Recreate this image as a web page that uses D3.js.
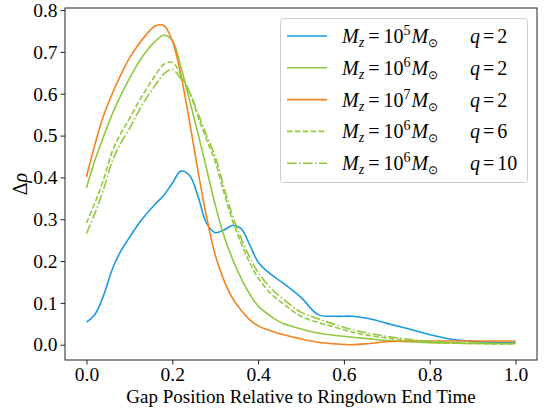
<!DOCTYPE html>
<html><head><meta charset="utf-8">
<script src="https://cdn.jsdelivr.net/npm/d3@7"></script>
<style>body{margin:0;background:#fff}</style>
</head><body>
<svg id="c" width="547" height="410"></svg>
<script>
const xs = [0, .02, .04, .06, .08, .10, .12, .14, .16, .18, .20, .22, .24, .26, .28, .30, .32, .34, .36, .38, .40, .43, .46, .50, .54, .58, .62, .66, .70, .75, .80, .85, .90, .95, 1.0];
const m5q2 = [0.054, 0.073, 0.118, 0.180, 0.224, 0.256, 0.287, 0.313, 0.336, 0.357, 0.386, 0.415, 0.405, 0.355, 0.290, 0.268, 0.274, 0.285, 0.278, 0.240, 0.198, 0.168, 0.146, 0.113, 0.072, 0.068, 0.068, 0.062, 0.051, 0.038, 0.024, 0.013, 0.008, 0.006, 0.005];
const m6q2 = [0.375, 0.442, 0.498, 0.551, 0.596, 0.636, 0.672, 0.702, 0.725, 0.740, 0.728, 0.664, 0.586, 0.505, 0.420, 0.335, 0.262, 0.206, 0.160, 0.122, 0.093, 0.068, 0.050, 0.038, 0.028, 0.022, 0.018, 0.014, 0.010, 0.007, 0.005, 0.004, 0.003, 0.003, 0.003];
const m7q2 = [0.401, 0.480, 0.548, 0.600, 0.645, 0.685, 0.716, 0.742, 0.762, 0.763, 0.727, 0.645, 0.535, 0.415, 0.305, 0.215, 0.155, 0.112, 0.083, 0.060, 0.045, 0.033, 0.024, 0.014, 0.006, 0.002, 0.000, 0.003, 0.007, 0.009, 0.009, 0.009, 0.009, 0.009, 0.009];
const m6q6 = [0.291, 0.340, 0.395, 0.462, 0.505, 0.540, 0.578, 0.612, 0.643, 0.670, 0.675, 0.645, 0.605, 0.545, 0.490, 0.438, 0.365, 0.298, 0.244, 0.197, 0.160, 0.122, 0.097, 0.068, 0.053, 0.042, 0.030, 0.022, 0.016, 0.010, 0.006, 0.004, 0.003, 0.002, 0.002];
const m6q10 = [0.266, 0.315, 0.372, 0.438, 0.482, 0.516, 0.555, 0.590, 0.620, 0.647, 0.658, 0.636, 0.604, 0.553, 0.500, 0.450, 0.378, 0.310, 0.256, 0.210, 0.173, 0.135, 0.108, 0.078, 0.062, 0.048, 0.036, 0.027, 0.020, 0.013, 0.008, 0.005, 0.004, 0.003, 0.003];
const xTicks = [0.0, 0.2, 0.4, 0.6, 0.8, 1.0];
const yTicks = [0.0, 0.1, 0.2, 0.3, 0.4, 0.5, 0.6, 0.7, 0.8];
const legendMass = ["5", "6", "7", "6", "6"];
const legendQ = ["2", "2", "2", "6", "10"];
const xLabel = "Gap Position Relative to Ringdown End Time";

const series = [
  {y: m5q2, color: "#1a9be0", dash: null},
  {y: m6q2, color: "#92c83e", dash: null},
  {y: m7q2, color: "#f58220", dash: null},
  {y: m6q6, color: "#92c83e", dash: "5.5,2.4"},
  {y: m6q10, color: "#92c83e", dash: "9.6,2.4,1.6,2.4"}
];

const W = 547, H = 410;
const m = {l: 65, r: 10, t: 8, b: 50};
const svg = d3.select("#c");
const x = d3.scaleLinear().domain([-0.05, 1.05]).range([m.l, W - m.r]);
const y = d3.scaleLinear().domain([-0.0365, 0.805]).range([H - m.b, m.t]);
const serif = "'Liberation Serif', 'Times New Roman', serif";

const line = d3.line().x((d, i) => x(xs[i])).y(d => y(d)).curve(d3.curveCatmullRom.alpha(0.5));
const g = svg.append("g");
series.forEach(s => {
  g.append("path").datum(s.y).attr("d", line)
    .attr("fill", "none").attr("stroke", s.color).attr("stroke-width", 1.6)
    .attr("stroke-dasharray", s.dash);
});

svg.append("rect").attr("x", m.l).attr("y", m.t).attr("width", W - m.l - m.r).attr("height", H - m.t - m.b)
  .attr("fill", "none").attr("stroke", "#222").attr("stroke-width", 1);

const xAxis = d3.axisBottom(x).tickValues(xTicks).tickFormat(d3.format(".1f")).tickSizeInner(4.5).tickSizeOuter(0).tickPadding(3);
const yAxis = d3.axisLeft(y).tickValues(yTicks).tickFormat(d3.format(".1f")).tickSizeInner(4.5).tickSizeOuter(0).tickPadding(3);
const gx = svg.append("g").attr("transform", `translate(0,${H - m.b})`).call(xAxis);
const gy = svg.append("g").attr("transform", `translate(${m.l},0)`).call(yAxis);
[gx, gy].forEach(a => {
  a.select(".domain").remove();
  a.selectAll("line").attr("stroke", "#222");
  a.selectAll("text").attr("font-family", serif).attr("font-size", 19.5).attr("fill", "#000");
});

svg.append("text").attr("x", 301).attr("y", 403)
  .attr("text-anchor", "middle").attr("font-family", serif).attr("font-size", 19).text(xLabel);

const yl = svg.append("text").attr("transform", `translate(27,${184}) rotate(-90)`)
  .attr("text-anchor", "middle").attr("font-family", serif).attr("font-size", 20);
yl.append("tspan").text("Δ");
yl.append("tspan").attr("font-style", "italic").text("ρ");

const lg = svg.append("g");
lg.append("rect").attr("x", 280.5).attr("y", 18.5).attr("width", 247).attr("height", 164).attr("rx", 3)
  .attr("fill", "#fff").attr("fill-opacity", 0.8).attr("stroke", "#ccc").attr("stroke-width", 1);
series.forEach((s, i) => {
  const cy = 36 + i * 31.8;
  lg.append("line").attr("x1", 287).attr("x2", 327).attr("y1", cy).attr("y2", cy)
    .attr("stroke", s.color).attr("stroke-width", 1.6).attr("stroke-dasharray", s.dash);
  const t = lg.append("text").attr("x", 342).attr("y", cy + 7).attr("font-family", serif).attr("font-size", 20);
  t.append("tspan").attr("font-style", "italic").text("M");
  t.append("tspan").attr("font-style", "italic").attr("font-size", 14).attr("dy", 4).text("z");
  t.append("tspan").attr("dy", -4).attr("dx", 4).text("=");
  t.append("tspan").attr("dx", 4).text("10");
  t.append("tspan").attr("font-size", 14).attr("dy", -8).text(legendMass[i]);
  t.append("tspan").attr("font-style", "italic").attr("dy", 8).attr("dx", 1).text("M");
  t.append("tspan").attr("font-size", 12).attr("dy", 4).text("⊙");
  const q = lg.append("text").attr("x", 470).attr("y", cy + 7).attr("font-family", serif).attr("font-size", 20);
  q.append("tspan").attr("font-style", "italic").text("q");
  q.append("tspan").attr("dx", 3).text("=");
  q.append("tspan").attr("dx", 3).text(legendQ[i]);
});
</script>
</body></html>
